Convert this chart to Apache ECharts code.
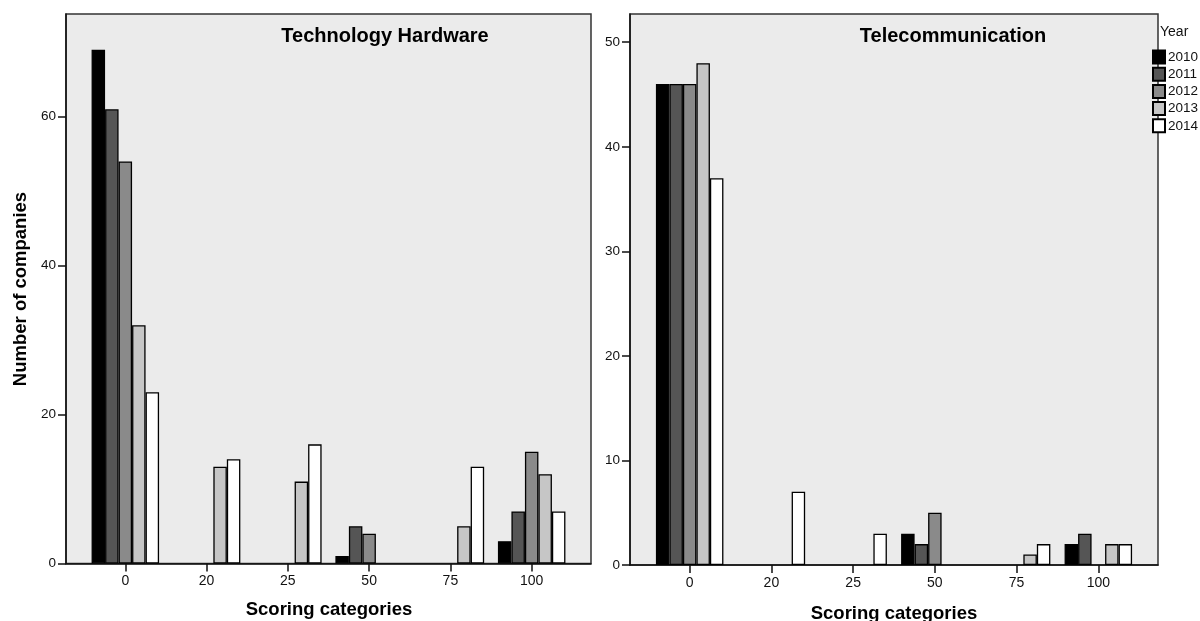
<!DOCTYPE html>
<html>
<head>
<meta charset="utf-8">
<script src="https://cdn.jsdelivr.net/npm/echarts@6/dist/echarts.min.js"></script>
<style>
html,body{margin:0;padding:0;background:#fff;}
#chart{width:1200px;height:621px;}
</style>
</head>
<body>
<div id="chart"></div>
<script>
const categories = ['0', '20', '25', '50', '75', '100'];
const years = ['2010', '2011', '2012', '2013', '2014'];
const yearColors = ['#000000', '#555555', '#8a8a8a', '#c6c6c6', '#ffffff'];

// Technology Hardware (null = no bar)
const hw2010 = [69, null, null, 1, null, 3];
const hw2011 = [61, null, null, 5, null, 7];
const hw2012 = [54, null, null, 4, null, 15];
const hw2013 = [32, 13, 11, null, 5, 12];
const hw2014 = [23, 14, 16, null, 13, 7];

// Telecommunication
const tc2010 = [46, null, null, 3, null, 2];
const tc2011 = [46, null, null, 2, null, 3];
const tc2012 = [46, null, null, 5, null, null];
const tc2013 = [48, null, null, null, 1, 2];
const tc2014 = [37, 7, 3, null, 2, 2];

const hwTicks = [0, 20, 40, 60];
const tcTicks = [0, 10, 20, 30, 40, 50];

const hwSeries = [hw2010, hw2011, hw2012, hw2013, hw2014];
const tcSeries = [tc2010, tc2011, tc2012, tc2013, tc2014];

const font = 'Liberation Sans, Arial, sans-serif';

function xAxisDef(gridIndex) {
  return {
    type: 'value', gridIndex: gridIndex, min: -0.73, max: 5.73,
    axisLine: {show: true, onZero: false, lineStyle: {color: '#111', width: 1.5}},
    axisTick: {show: true, length: 8, customValues: categories.map((c, i) => i), lineStyle: {color: '#111', width: 1.5}},
    axisLabel: {customValues: categories.map((c, i) => i), formatter: v => categories[Math.round(v)], margin: 11,
      color: '#111', fontSize: 14, fontFamily: font},
    splitLine: {show: false}
  };
}
function yAxisDef(gridIndex, max, ticks) {
  return {
    type: 'value', gridIndex: gridIndex, min: 0, max: max,
    axisLine: {show: true, onZero: false, lineStyle: {color: '#111', width: 1.5}},
    axisTick: {show: true, length: 8, customValues: ticks, lineStyle: {color: '#111', width: 1.5}},
    axisLabel: {customValues: ticks, margin: 10, color: '#111', fontSize: 13.5, fontFamily: font},
    splitLine: {show: false}
  };
}

const series = [];
[hwSeries, tcSeries].forEach((group, gi) => {
  group.forEach((vals, yi) => {
    series.push({
      name: years[yi], type: 'bar', xAxisIndex: gi, yAxisIndex: gi,
      barWidth: 13.5, barGap: '0%',
      data: vals.map((v, i) => [i, v]),
      itemStyle: {color: yearColors[yi], borderColor: '#000', borderWidth: 1.3},
      emphasis: {disabled: true}
    });
  });
});

const chart = echarts.init(document.getElementById('chart'));
chart.setOption({
  animation: false,
  backgroundColor: '#ffffff',
  grid: [
    {left: 66, right: 609, top: 14, bottom: 57.5, show: true, backgroundColor: '#ebebeb', borderColor: '#333', borderWidth: 1.5},
    {left: 630, right: 42, top: 14, bottom: 56, show: true, backgroundColor: '#ebebeb', borderColor: '#333', borderWidth: 1.5}
  ],
  xAxis: [xAxisDef(0), xAxisDef(1)],
  yAxis: [yAxisDef(0, 73.8, hwTicks), yAxisDef(1, 52.7, tcTicks)],
  legend: {
    data: years, orient: 'vertical', left: 1152, top: 49.5, padding: 0,
    itemWidth: 12, itemHeight: 13, itemGap: 2.2, icon: 'rect',
    textStyle: {fontSize: 13.5, lineHeight: 13, color: '#111', fontFamily: font, padding: [0, 0, 0, -2]},
    selectedMode: false
  },
  graphic: [
    {type: 'text', x: 385, y: 36, style: {text: 'Technology Hardware', font: 'bold 20px ' + font, fill: '#000', textAlign: 'center', textVerticalAlign: 'middle'}},
    {type: 'text', x: 953, y: 36, style: {text: 'Telecommunication', font: 'bold 20px ' + font, fill: '#000', textAlign: 'center', textVerticalAlign: 'middle'}},
    {type: 'text', x: 329, y: 610, style: {text: 'Scoring categories', font: 'bold 18.5px ' + font, fill: '#000', textAlign: 'center', textVerticalAlign: 'middle'}},
    {type: 'text', x: 894, y: 614, style: {text: 'Scoring categories', font: 'bold 18.5px ' + font, fill: '#000', textAlign: 'center', textVerticalAlign: 'middle'}},
    {type: 'text', x: 21, y: 289, rotation: Math.PI / 2, style: {text: 'Number of companies', font: 'bold 18.5px ' + font, fill: '#000', textAlign: 'center', textVerticalAlign: 'middle'}},
    {type: 'text', x: 1160, y: 32, style: {text: 'Year', font: '14px ' + font, fill: '#111', textAlign: 'left', textVerticalAlign: 'middle'}}
  ],
  series: series
});
</script>
</body>
</html>
